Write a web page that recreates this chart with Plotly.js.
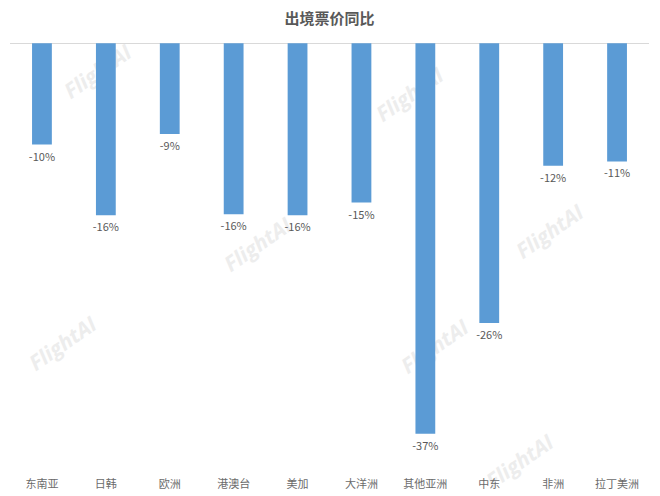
<!DOCTYPE html>
<html>
<head>
<meta charset="utf-8">
<script src="https://cdn.plot.ly/plotly-3.0.1.min.js"></script>
<style>html,body{margin:0;padding:0;background:#fff;}#chart{width:660px;height:496px;}</style>
</head>
<body>
<div id="chart"></div>
<script>
const categories = ['东南亚', '日韩', '欧洲', '港澳台', '美加', '大洋洲', '其他亚洲', '中东', '非洲', '拉丁美洲'];
const changePct = [-9.6, -16.3, -8.6, -16.2, -16.3, -15.1, -37.0, -26.5, -11.6, -11.2];
const labels = changePct.map(v => Math.round(v) + '%');

const W = 660, H = 496;
const M = {l: 10, r: 11, t: 43, b: 20};
const pw = W - M.l - M.r, ph = H - M.t - M.b;
function px2paper(px, py) { return [(px - M.l) / pw, 1 - (py - M.t) / ph]; }

const marks = [[98, 72], [410, 95], [258, 245], [550, 232], [63, 344], [435, 347], [520, 462]];
const shapes = marks.map(([px, py]) => {
  const [x, y] = px2paper(px, py);
  return {
    type: 'rect', xref: 'paper', yref: 'paper', layer: 'below',
    x0: x - 0.005, x1: x + 0.005, y0: y - 0.005, y1: y + 0.005,
    line: {width: 0}, fillcolor: 'rgba(0,0,0,0)',
    label: {text: 'FlightAI', textangle: -35, textposition: 'middle center',
      font: {family: 'Open Sans, sans-serif', size: 21, color: '#ededed', weight: 'bold', style: 'italic'}}
  };
});

const trace = {
  type: 'bar', x: categories, y: changePct,
  marker: {color: '#5B9BD5'},
  text: labels, textposition: 'outside', cliponaxis: false, constraintext: 'none',
  textfont: {family: 'Noto Sans CJK SC, sans-serif', size: 11, color: '#595959'},
  hoverinfo: 'none'
};

const layout = {
  width: W, height: H,
  margin: M,
  paper_bgcolor: '#fff', plot_bgcolor: 'rgba(0,0,0,0)',
  title: {text: '<b>出境票价同比</b>', x: 0.5, xref: 'paper', y: 0.962, yanchor: 'middle',
    font: {family: 'Noto Sans CJK SC, sans-serif', size: 15, color: '#595959'}},
  bargap: 0.69,
  showlegend: false,
  xaxis: {type: 'category', showgrid: false, showline: false, zeroline: false, ticks: '',
    tickfont: {family: 'Noto Sans CJK SC, sans-serif', size: 11, color: '#6b6b6b'}, automargin: false},
  yaxis: {range: [-41.0, 0.02], showgrid: false, showticklabels: false, zeroline: true,
    zerolinecolor: '#d9d9d9', zerolinewidth: 1, showline: false, ticks: ''},
  shapes: shapes
};

Plotly.newPlot('chart', [trace], layout, {displayModeBar: false, staticPlot: true});
</script>
</body>
</html>
